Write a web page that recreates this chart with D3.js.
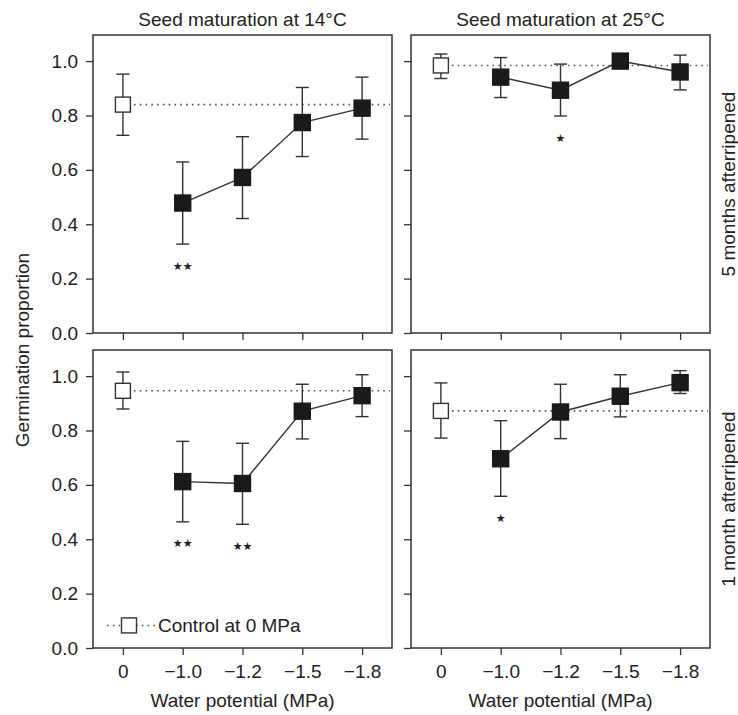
<!DOCTYPE html>
<html>
<head>
<meta charset="utf-8">
<script src="https://cdn.jsdelivr.net/npm/d3@7"></script>
<style>
  body { margin: 0; background: #fff; }
  svg text { font-family: "Liberation Sans", Arial, sans-serif; fill: #222; }
</style>
</head>
<body>
<svg id="chart" width="738" height="715"></svg>
<script>
// water potential levels (x categories)
const levels = ["0", "\u22121.0", "\u22121.2", "\u22121.5", "\u22121.8"];
const yTicks = [0, 0.2, 0.4, 0.6, 0.8, 1.0];

// 14°C maturation, 5 months afterripened
const mean_14_5m = [0.84, 0.478, 0.572, 0.774, 0.827];
const lo_14_5m   = [0.727, 0.327, 0.421, 0.649, 0.713];
const hi_14_5m   = [0.952, 0.629, 0.722, 0.903, 0.941];
const sig_14_5m  = ["", "\u2605\u2605", "", "", ""];

// 25°C maturation, 5 months afterripened
const mean_25_5m = [0.984, 0.941, 0.893, 1.0, 0.96];
const lo_25_5m   = [0.936, 0.866, 0.798, 1.0, 0.894];
const hi_25_5m   = [1.026, 1.013, 0.989, 1.0, 1.022];
const sig_25_5m  = ["", "", "\u2605", "", ""];

// 14°C maturation, 1 month afterripened
const mean_14_1m = [0.946, 0.612, 0.605, 0.871, 0.928];
const lo_14_1m   = [0.879, 0.464, 0.455, 0.769, 0.851];
const hi_14_1m   = [1.015, 0.760, 0.753, 0.970, 1.005];
const sig_14_1m  = ["", "\u2605\u2605", "\u2605\u2605", "", ""];

// 25°C maturation, 1 month afterripened
const mean_25_1m = [0.872, 0.696, 0.868, 0.926, 0.976];
const lo_25_1m   = [0.772, 0.558, 0.770, 0.850, 0.936];
const hi_25_1m   = [0.975, 0.836, 0.970, 1.005, 1.020];
const sig_25_1m  = ["", "\u2605", "", "", ""];

const colTitles = ["Seed maturation at 14\u00b0C", "Seed maturation at 25\u00b0C"];
const rowTitles = ["5 months afterripened", "1 month afterripened"];

const svg = d3.select("#chart");
const lineCol = "#333";

const colX = [[93, 392], [411, 710]];
const rowY = [[35, 333], [350, 648]];

const panels = [
  { col: 0, row: 0, mean: mean_14_5m, lo: lo_14_5m, hi: hi_14_5m, sig: sig_14_5m },
  { col: 1, row: 0, mean: mean_25_5m, lo: lo_25_5m, hi: hi_25_5m, sig: sig_25_5m },
  { col: 0, row: 1, mean: mean_14_1m, lo: lo_14_1m, hi: hi_14_1m, sig: sig_14_1m, legend: true },
  { col: 1, row: 1, mean: mean_25_1m, lo: lo_25_1m, hi: hi_25_1m, sig: sig_25_1m }
];

panels.forEach(p => {
  const [x0, x1] = colX[p.col];
  const [y0, y1] = rowY[p.row];
  const x = d3.scalePoint().domain(levels).range([x0, x1]).padding(0.5);
  const y = d3.scaleLinear().domain([0, 1.096]).range([y1, y0]);
  const g = svg.append("g");

  // x axis ticks (labels only on the bottom row)
  const xAxis = d3.axisBottom(x).tickSize(7).tickPadding(8).tickSizeOuter(0);
  if (p.row === 0) xAxis.tickFormat("");
  const gx = g.append("g").attr("transform", `translate(0,${y1})`).call(xAxis);
  gx.select(".domain").remove();

  // y axis ticks (labels only on the left column)
  const yAxis = d3.axisLeft(y).tickValues(yTicks).tickSize(7).tickPadding(8)
    .tickFormat(d3.format(".1f"));
  if (p.col === 1) yAxis.tickFormat("");
  const gy = g.append("g").attr("transform", `translate(${x0},0)`).call(yAxis);
  gy.select(".domain").remove();

  [gx, gy].forEach(a => {
    a.selectAll(".tick line").attr("stroke", lineCol).attr("stroke-width", 1.3);
    a.selectAll(".tick text").style("font-size", "19px").attr("fill", "#222");
  });
  gx.selectAll(".tick text").attr("dy", "0.71em").attr("y", 17);

  // panel frame
  g.append("rect")
    .attr("x", x0).attr("y", y0)
    .attr("width", x1 - x0).attr("height", y1 - y0)
    .attr("fill", "none").attr("stroke", lineCol).attr("stroke-width", 1.5);

  // dotted reference line at the control level
  g.append("line")
    .attr("x1", x(levels[0]) + 11).attr("x2", x1 - 2)
    .attr("y1", y(p.mean[0])).attr("y2", y(p.mean[0]))
    .attr("stroke", "#555").attr("stroke-width", 1.6)
    .attr("stroke-dasharray", "1.6,4.2");

  const idx = d3.range(levels.length);

  // error bars
  const eb = g.append("g").attr("stroke", lineCol).attr("stroke-width", 1.4);
  idx.forEach(i => {
    const cx = x(levels[i]);
    eb.append("line").attr("x1", cx).attr("x2", cx).attr("y1", y(p.lo[i])).attr("y2", y(p.hi[i]));
    eb.append("line").attr("x1", cx - 6.5).attr("x2", cx + 6.5).attr("y1", y(p.lo[i])).attr("y2", y(p.lo[i]));
    eb.append("line").attr("x1", cx - 6.5).attr("x2", cx + 6.5).attr("y1", y(p.hi[i])).attr("y2", y(p.hi[i]));
  });

  // line through treatment means
  const treat = idx.slice(1);
  g.append("path")
    .datum(treat)
    .attr("fill", "none").attr("stroke", lineCol).attr("stroke-width", 1.4)
    .attr("d", d3.line().x(i => x(levels[i])).y(i => y(p.mean[i])));

  // markers: open square for control, filled squares for treatments
  const s = 16;
  g.selectAll(".mk").data(idx).join("rect")
    .attr("x", i => x(levels[i]) - (i === 0 ? 7.5 : s / 2))
    .attr("y", i => y(p.mean[i]) - (i === 0 ? 7.5 : s / 2))
    .attr("width", i => i === 0 ? 15 : s)
    .attr("height", i => i === 0 ? 15 : s)
    .attr("fill", i => i === 0 ? "#fff" : "#1a1a1a")
    .attr("stroke", i => i === 0 ? lineCol : "#1a1a1a")
    .attr("stroke-width", 1.4);

  // significance stars under the error bars
  g.selectAll(".sig").data(idx.filter(i => p.sig[i])).join("text")
    .attr("x", i => x(levels[i]))
    .attr("y", i => y(p.lo[i] - 0.08))
    .attr("dy", "0.35em")
    .attr("text-anchor", "middle")
    .style("font-family", "DejaVu Sans, sans-serif")
    .style("font-size", "11px")
    .text(i => p.sig[i]);

  if (p.legend) {
    const ly = y(0.083);
    const lx = x0 + 36;
    g.append("line")
      .attr("x1", x0 + 14).attr("x2", x0 + 64)
      .attr("y1", ly).attr("y2", ly)
      .attr("stroke", "#555").attr("stroke-width", 1.6)
      .attr("stroke-dasharray", "1.6,4.2");
    g.append("rect")
      .attr("x", lx - 7.5).attr("y", ly - 7.5).attr("width", 15).attr("height", 15)
      .attr("fill", "#fff").attr("stroke", lineCol).attr("stroke-width", 1.4);
    g.append("text")
      .attr("x", x0 + 65).attr("y", ly).attr("dy", "0.35em")
      .style("font-size", "19px")
      .text("Control at 0 MPa");
  }
});

// column titles
colTitles.forEach((t, c) => {
  svg.append("text")
    .attr("x", (colX[c][0] + colX[c][1]) / 2).attr("y", 26)
    .attr("text-anchor", "middle").style("font-size", "19px")
    .text(t);
  svg.append("text")
    .attr("x", (colX[c][0] + colX[c][1]) / 2).attr("y", 707)
    .attr("text-anchor", "middle").style("font-size", "19px")
    .text("Water potential (MPa)");
});

// row labels on the right
rowTitles.forEach((t, r) => {
  const cy = (rowY[r][0] + rowY[r][1]) / 2;
  svg.append("text")
    .attr("transform", `translate(728,${cy}) rotate(-90)`)
    .attr("text-anchor", "middle").attr("dy", "0.35em")
    .style("font-size", "19px")
    .text(t);
});

// shared y label
svg.append("text")
  .attr("transform", "translate(22,350) rotate(-90)")
  .attr("text-anchor", "middle").attr("dy", "0.35em")
  .style("font-size", "19px")
  .text("Germination proportion");
</script>
</body>
</html>
